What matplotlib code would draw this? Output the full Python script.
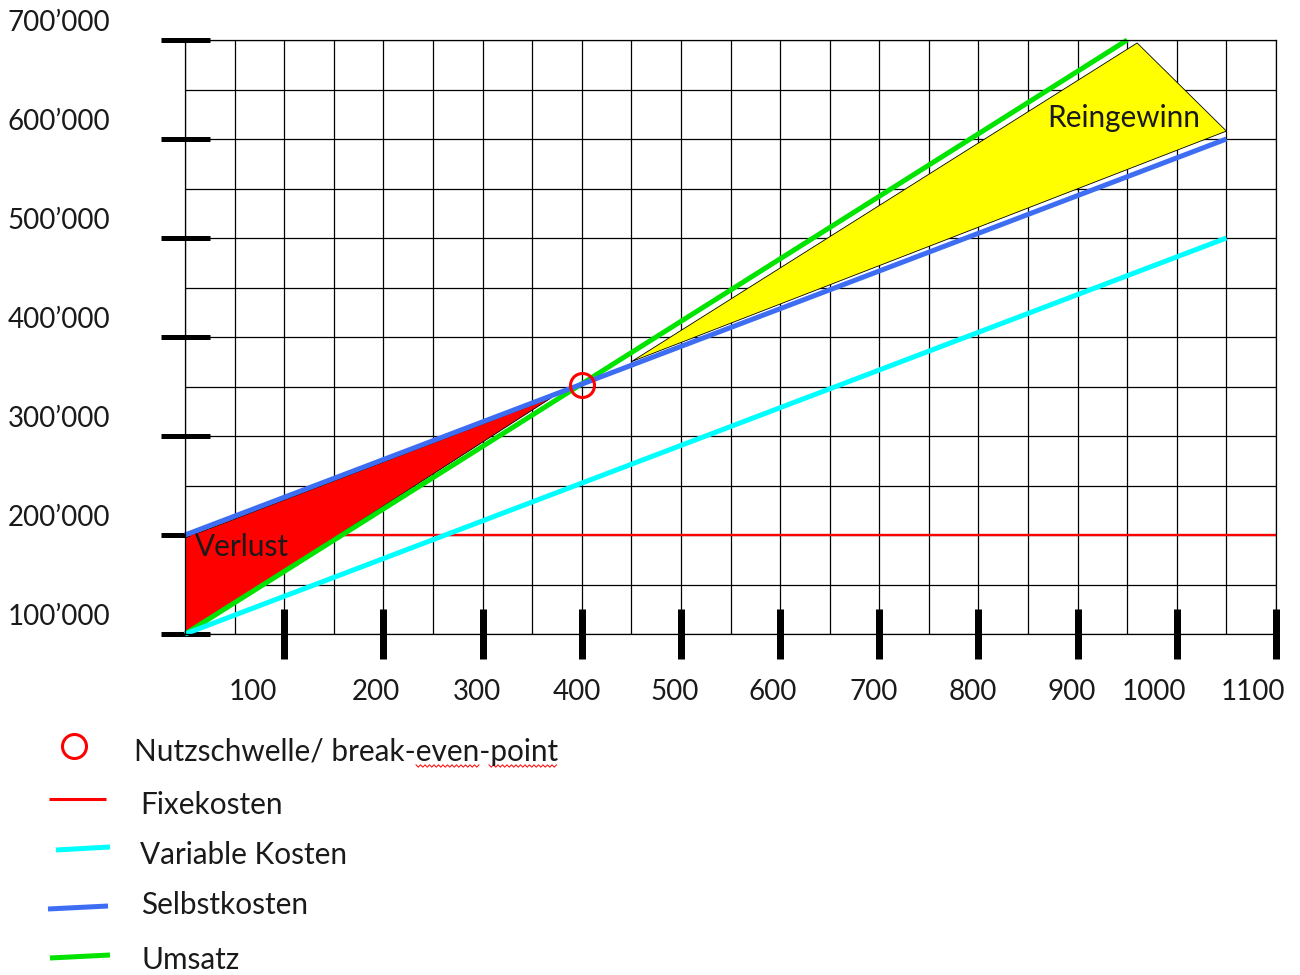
import matplotlib
matplotlib.use("Agg")
import matplotlib.pyplot as plt
import numpy as np
from matplotlib import transforms as mtransforms
from matplotlib.lines import Line2D

# ---------------- data ----------------
x_ticks = [100, 200, 300, 400, 500, 600, 700, 800, 900, 1000, 1100]
x_tick_labels = ["100", "200", "300", "400", "500", "600", "700", "800", "900", "1000", "1100"]
y_ticks = [100000, 200000, 300000, 400000, 500000, 600000, 700000]
y_tick_labels = ["100’000", "200’000", "300’000", "400’000", "500’000", "600’000", "700’000"]

fix_x = [0, 1100]
fix_y = [200000, 200000]
var_x = [0, 1050]
var_y = [100000, 500000]
selbst_x = [0, 1050]
selbst_y = [200000, 600000]
umsatz_x = [0, 950]
umsatz_y = [100000, 700000]
bep_x = [400]
bep_y = [352000]
verlust_x = [0, 0, 370]
verlust_y = [197000, 100000, 339000]
gewinn_x = [450, 960, 1050]
gewinn_y = [375000, 697000, 608000]

legend_labels = ["Nutzschwelle/ break-even-point", "Fixekosten", "Variable Kosten",
                 "Selbstkosten", "Umsatz"]

# ---------------- style ----------------
W, H = 1300, 975
FONT = "Lato"
FS_NUM = 20
FS_TXT = 21.4
TXT = "#1a1a1a"
RED = "#FF0000"
CYAN = "#00FFFF"
BLUE = "#3D6DF2"
GREEN = "#00E400"
YELLOW = "#FFFF00"
PT = 0.72  # points per pixel at 100 dpi

plt.rcParams["font.family"] = [FONT, "DejaVu Sans"]

fig = plt.figure(figsize=(W / 100, H / 100), dpi=100)
fig.patch.set_facecolor("white")
ax = fig.add_axes([185 / W, 1 - 634 / H, 1091 / W, 594 / H])
ax.set_xlim(0, 1100)
ax.set_ylim(100000, 700000)

ax.set_xticks(x_ticks)
ax.set_xticks(np.arange(0, 1101, 50), minor=True)
ax.set_yticks(y_ticks)
ax.set_yticks(np.arange(100000, 700001, 50000), minor=True)
ax.tick_params(which="minor", length=0)
ax.tick_params(axis="x", which="major", direction="inout", length=50 * PT,
               width=7 * PT, color="black", labelbottom=False)
ax.tick_params(axis="y", which="major", direction="inout", length=49 * PT,
               width=5 * PT, color="black", labelleft=False)
ax.grid(which="both", color="black", lw=0.9)
for sp in ax.spines.values():
    sp.set_color("black")
    sp.set_linewidth(0.9)
ax.set_axisbelow(True)

# polygons
ax.fill(verlust_x, verlust_y, facecolor=RED, edgecolor="black", lw=0.6, zorder=1)
ax.fill(gewinn_x, gewinn_y, facecolor=YELLOW, edgecolor="black", lw=0.6, zorder=1)

# lines
ax.plot(fix_x, fix_y, color=RED, lw=1.7, zorder=2, solid_capstyle="butt", clip_on=False)
ax.plot(umsatz_x, umsatz_y, color=GREEN, lw=3.6, zorder=2.2, solid_capstyle="butt", clip_on=False)
ax.plot(var_x, var_y, color=CYAN, lw=3.6, zorder=2.3, solid_capstyle="butt", clip_on=False)
ax.plot(selbst_x, selbst_y, color=BLUE, lw=3.6, zorder=2.4, solid_capstyle="butt", clip_on=False)
ax.plot(bep_x, bep_y, marker="o", ms=24 * PT, mfc="none", mec=RED, mew=2.2,
        ls="none", zorder=5, clip_on=False)

# area labels
ax.text(10, 187500, "Verlust", fontsize=FS_TXT, color=TXT, ha="left", va="center", zorder=6)
ax.text(869, 621500, "Reingewinn", fontsize=FS_TXT, color=TXT, ha="left", va="center", zorder=6)

# tick labels
for v, lab in zip(y_ticks, y_tick_labels):
    tr = mtransforms.offset_copy(ax.transData, fig=fig, x=-75, y=9, units="dots")
    ax.text(0, v, lab, transform=tr, ha="right", va="baseline", fontsize=FS_NUM,
            color=TXT, clip_on=False)

x_label_dx = [-31, -7, -6, -5, -6, -7, -6, -6, -6, -23, -23]
for v, lab, dx in zip(x_ticks, x_tick_labels, x_label_dx):
    tr = mtransforms.offset_copy(ax.get_xaxis_transform(), fig=fig, x=dx, y=-66, units="dots")
    ax.text(v, 0, lab, transform=tr, ha="center", va="baseline", fontsize=FS_NUM,
            color=TXT, clip_on=False)


# ---------------- legend ----------------
def fx(x):
    return x / W


def fy(y):
    return 1 - y / H


fig.add_artist(Line2D([fx(74)], [fy(746)], marker="o", ms=24 * PT, mfc="none",
                      mec=RED, mew=2.2, ls="none", transform=fig.transFigure))
legend_lines = [
    (RED, 2.2, (49, 799), (106, 799)),
    (CYAN, 3.6, (56, 850), (110, 847)),
    (BLUE, 3.6, (48, 909), (108, 906)),
    (GREEN, 3.6, (50, 958), (110, 955)),
]
for col, lw, p0, p1 in legend_lines:
    fig.add_artist(Line2D([fx(p0[0]), fx(p1[0])], [fy(p0[1]), fy(p1[1])], color=col,
                          lw=lw, solid_capstyle="butt", transform=fig.transFigure))

legend_pos = [(134, 761), (140, 814), (140, 864), (141, 914), (141, 969)]
for lab, (x, y) in zip(legend_labels, legend_pos):
    fig.text(fx(x), fy(y), lab, fontsize=FS_TXT, color=TXT, ha="left", va="baseline")


def squiggle(x0, x1, y):
    xs = np.arange(x0, x1 + 0.1, 2.25)
    ys = y + np.where(np.arange(len(xs)) % 2 == 0, -1.2, 1.2)
    fig.add_artist(Line2D(fx(xs), fy(ys), color=RED, lw=0.7, transform=fig.transFigure))


squiggle(416, 479, 766)
squiggle(489, 557, 766)

fig.savefig("out.png", dpi=100)
